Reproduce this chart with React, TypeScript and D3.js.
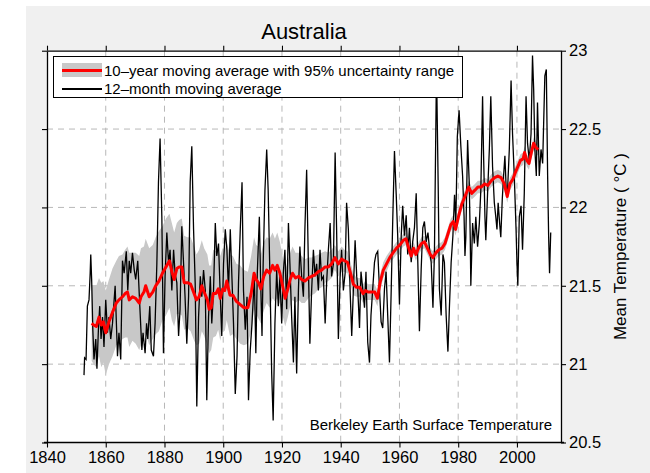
import { useEffect, useRef } from 'react';
import * as d3 from 'd3';

// axis ticks
const xTicks = [1840, 1860, 1880, 1900, 1920, 1940, 1960, 1980, 2000];
const yTicks = [20.5, 21, 21.5, 22, 22.5, 23];

// 12-month moving average, [year, temp]
const monthly: [number, number][] = [
    [1852.6, 20.93], [1852.8, 21.04], [1853.3, 21.03], [1853.75, 21.37], [1854.3, 21.41], [1854.7, 21.58],
    [1854.9, 21.7], [1855.2, 21.54], [1855.6, 21.22], [1856.0, 21.03], [1856.6, 21.16], [1857.0, 20.97],
    [1857.5, 21.22], [1857.95, 21.37], [1858.4, 21.16], [1858.9, 21.3], [1859.4, 21.11], [1860.0, 21.41],
    [1860.6, 21.2], [1861.1, 21.3], [1861.7, 21.16], [1862.3, 21.26], [1863.2, 21.5], [1864.0, 21.05],
    [1864.5, 21.2], [1865.1, 21.03], [1865.7, 21.66], [1866.25, 21.58], [1867.0, 21.72], [1867.5, 21.47],
    [1868.0, 21.66], [1868.5, 21.58], [1869.1, 21.71], [1869.7, 21.6], [1870.2, 21.54], [1870.9, 21.66],
    [1871.4, 21.45], [1872.3, 21.09], [1872.7, 21.2], [1873.4, 21.07], [1873.9, 21.26], [1874.3, 21.16],
    [1875.0, 21.37], [1875.5, 21.09], [1876.25, 21.05], [1876.8, 21.26], [1877.4, 21.64], [1877.95, 22.16],
    [1878.5, 22.44], [1879.1, 21.94], [1879.65, 21.07], [1880.2, 21.56], [1880.8, 21.84], [1881.4, 21.64],
    [1881.9, 21.73], [1882.5, 21.47], [1883.1, 21.73], [1883.6, 21.58], [1884.2, 21.52], [1884.8, 21.18],
    [1885.3, 21.35], [1885.9, 21.88], [1886.5, 21.64], [1887.0, 21.43], [1887.6, 21.13], [1888.2, 21.43],
    [1888.75, 22.16], [1889.3, 22.39], [1889.9, 21.86], [1890.45, 21.52], [1891.0, 20.73], [1891.6, 21.3],
    [1892.2, 21.56], [1892.7, 21.43], [1893.3, 21.6], [1893.9, 21.47], [1894.4, 20.77], [1895.0, 21.3],
    [1895.6, 21.56], [1896.1, 21.26], [1896.7, 21.47], [1897.3, 21.9], [1897.8, 21.69], [1898.4, 21.77],
    [1899.0, 21.43], [1899.5, 21.18], [1900.1, 21.64], [1900.7, 21.86], [1901.25, 21.73], [1901.8, 21.47],
    [1902.4, 21.86], [1902.95, 21.56], [1903.5, 21.26], [1904.1, 20.81], [1904.7, 21.05], [1905.2, 21.52],
    [1905.8, 21.86], [1906.4, 22.16], [1906.9, 21.47], [1907.5, 21.22], [1908.1, 21.43], [1908.6, 20.77],
    [1909.2, 21.09], [1909.8, 21.26], [1910.6, 21.56], [1911.1, 21.07], [1911.6, 21.58], [1912.3, 21.94],
    [1912.7, 21.56], [1913.2, 21.18], [1913.6, 21.64], [1914.2, 22.11], [1914.8, 22.37], [1915.3, 22.11],
    [1915.9, 21.56], [1916.5, 20.94], [1917.0, 20.64], [1917.6, 21.26], [1918.2, 21.6], [1918.75, 21.37],
    [1919.3, 21.56], [1919.9, 21.26], [1920.45, 21.58], [1921.0, 21.73], [1921.6, 21.35], [1922.2, 21.9],
    [1922.7, 21.64], [1923.3, 21.3], [1923.9, 21.01], [1924.4, 21.43], [1925.0, 20.94], [1925.6, 21.47],
    [1926.1, 21.75], [1926.7, 21.56], [1927.3, 21.43], [1927.8, 21.86], [1928.4, 22.24], [1928.9, 21.73],
    [1929.5, 21.13], [1930.1, 21.47], [1930.7, 21.73], [1931.25, 21.56], [1931.8, 21.64], [1932.4, 21.47],
    [1932.95, 21.73], [1933.5, 21.54], [1934.1, 21.56], [1934.7, 21.26], [1935.2, 21.52], [1935.8, 21.73],
    [1936.4, 21.9], [1936.9, 21.56], [1937.5, 21.64], [1938.1, 22.35], [1938.6, 21.86], [1939.2, 21.16],
    [1939.8, 21.56], [1940.3, 21.73], [1940.9, 21.47], [1941.5, 21.58], [1942.0, 22.03], [1942.6, 21.86],
    [1943.2, 21.47], [1943.75, 21.18], [1944.3, 21.47], [1944.9, 21.79], [1945.45, 21.56], [1945.8, 21.48],
    [1946.4, 21.23], [1946.9, 21.59], [1947.5, 21.48], [1948.1, 21.36], [1948.6, 21.59], [1949.2, 21.14],
    [1949.8, 21.01], [1950.3, 21.31], [1950.9, 21.48], [1951.5, 21.65], [1952.0, 21.7], [1952.6, 21.72],
    [1953.2, 21.48], [1953.75, 21.27], [1954.3, 21.23], [1954.9, 21.48], [1955.45, 21.59], [1956.0, 21.31],
    [1956.6, 21.01], [1957.2, 21.48], [1957.7, 21.91], [1958.3, 22.36], [1958.9, 22.08], [1959.4, 21.82],
    [1960.0, 21.38], [1960.6, 21.82], [1961.1, 22.01], [1961.7, 21.82], [1962.3, 21.95], [1962.8, 21.7],
    [1963.4, 21.87], [1964.0, 21.65], [1964.5, 21.78], [1965.1, 21.87], [1965.7, 22.09], [1966.25, 21.65],
    [1966.8, 21.21], [1967.4, 21.61], [1967.95, 21.87], [1968.5, 21.91], [1969.1, 21.78], [1969.7, 21.84],
    [1970.2, 21.74], [1970.8, 21.65], [1971.4, 21.36], [1971.9, 21.7], [1972.5, 22.7], [1972.7, 22.78],
    [1973.2, 22.12], [1973.6, 21.48], [1974.2, 21.31], [1974.8, 21.7], [1975.3, 21.65], [1975.9, 21.31],
    [1976.5, 21.08], [1977.0, 21.36], [1977.6, 21.65], [1978.2, 21.82], [1978.75, 22.08], [1979.2, 21.9],
    [1979.7, 22.45], [1980.3, 22.62], [1980.9, 22.39], [1981.5, 22.2], [1982.0, 21.94], [1982.3, 21.69],
    [1982.6, 21.81], [1983.2, 22.43], [1983.75, 22.16], [1984.1, 21.81], [1984.3, 21.5], [1984.9, 21.9],
    [1985.5, 21.77], [1986.0, 21.94], [1986.6, 21.75], [1987.2, 21.9], [1987.7, 22.11], [1988.3, 22.71],
    [1988.6, 22.37], [1989.1, 21.94], [1989.4, 21.79], [1990.0, 22.09], [1990.6, 22.37], [1991.1, 22.71],
    [1991.7, 22.26], [1992.3, 22.03], [1992.8, 21.94], [1993.2, 21.86], [1993.6, 22.03], [1994.1, 21.9],
    [1994.5, 21.81], [1995.0, 22.05], [1995.45, 22.2], [1995.9, 22.33], [1996.4, 22.09], [1996.8, 22.11],
    [1997.4, 22.37], [1998.0, 22.81], [1998.5, 22.47], [1999.1, 22.2], [1999.7, 21.86], [2000.0, 21.65],
    [2000.3, 21.5], [2000.8, 21.94], [2001.4, 22.01], [2001.9, 21.73], [2002.5, 22.09], [2003.1, 22.71],
    [2003.6, 22.41], [2004.2, 22.3], [2004.8, 22.47], [2005.3, 22.97], [2005.7, 22.75], [2006.1, 22.37],
    [2006.6, 22.2], [2007.0, 22.67], [2007.6, 22.2], [2008.2, 22.37], [2008.75, 22.28], [2009.1, 22.54],
    [2009.5, 22.84], [2010.0, 22.88], [2010.45, 22.2], [2010.8, 21.81], [2011.1, 21.58], [2011.5, 21.84],
];

// 10-year moving average, [year, temp, 95% half-width]
const decadal: [number, number, number][] = [
    [1855.2, 21.26, 0.24], [1855.9, 21.25, 0.25], [1856.8, 21.24, 0.26], [1857.7, 21.3, 0.25],
    [1858.5, 21.25, 0.27], [1859.2, 21.27, 0.26], [1860.0, 21.2, 0.27], [1861.1, 21.27, 0.27],
    [1862.3, 21.33, 0.28], [1863.6, 21.39, 0.27], [1864.5, 21.41, 0.28], [1865.7, 21.43, 0.27],
    [1866.6, 21.45, 0.28], [1867.4, 21.46, 0.29], [1868.0, 21.41, 0.3], [1869.1, 21.43, 0.28],
    [1870.2, 21.42, 0.29], [1871.4, 21.39, 0.3], [1872.0, 21.43, 0.31], [1873.0, 21.46, 0.29],
    [1873.6, 21.5, 0.3], [1874.8, 21.43, 0.31], [1876.0, 21.46, 0.3], [1877.0, 21.5, 0.31],
    [1878.1, 21.53, 0.32], [1879.3, 21.58, 0.3], [1880.5, 21.62, 0.31], [1881.7, 21.66, 0.3],
    [1882.5, 21.59, 0.31], [1883.3, 21.54, 0.3], [1884.2, 21.61, 0.29], [1885.0, 21.62, 0.3],
    [1885.9, 21.62, 0.31], [1886.7, 21.52, 0.3], [1887.8, 21.52, 0.29], [1888.9, 21.51, 0.3],
    [1890.1, 21.45, 0.3], [1890.9, 21.41, 0.29], [1891.8, 21.43, 0.3], [1892.7, 21.5, 0.29],
    [1893.5, 21.46, 0.28], [1894.6, 21.41, 0.29], [1895.2, 21.35, 0.28], [1895.9, 21.36, 0.27],
    [1896.6, 21.45, 0.28], [1897.5, 21.45, 0.27], [1898.3, 21.48, 0.26], [1899.0, 21.42, 0.27],
    [1899.8, 21.48, 0.26], [1900.5, 21.47, 0.26], [1901.2, 21.53, 0.25], [1902.3, 21.44, 0.26],
    [1903.3, 21.44, 0.25], [1904.5, 21.4, 0.24], [1905.8, 21.38, 0.25], [1907.0, 21.36, 0.24],
    [1908.4, 21.36, 0.23], [1909.5, 21.45, 0.24], [1910.5, 21.58, 0.23], [1911.2, 21.54, 0.22],
    [1912.0, 21.52, 0.23], [1912.8, 21.48, 0.22], [1913.8, 21.56, 0.22], [1914.8, 21.6, 0.21],
    [1915.8, 21.58, 0.22], [1916.8, 21.63, 0.21], [1917.6, 21.6, 0.2], [1918.4, 21.63, 0.21],
    [1919.3, 21.58, 0.2], [1920.2, 21.5, 0.19], [1921.1, 21.42, 0.18], [1922.0, 21.48, 0.18],
    [1922.8, 21.54, 0.17], [1923.6, 21.58, 0.17], [1924.6, 21.55, 0.16], [1925.7, 21.56, 0.15],
    [1926.7, 21.54, 0.15], [1927.8, 21.53, 0.14], [1929.0, 21.55, 0.13], [1930.1, 21.56, 0.12],
    [1931.2, 21.57, 0.12], [1932.4, 21.59, 0.11], [1933.5, 21.6, 0.11], [1934.7, 21.62, 0.1],
    [1935.8, 21.62, 0.09], [1936.9, 21.64, 0.09], [1938.0, 21.68, 0.08], [1939.2, 21.64, 0.08],
    [1940.3, 21.67, 0.08], [1941.3, 21.66, 0.07], [1942.3, 21.65, 0.07], [1943.2, 21.59, 0.07],
    [1944.3, 21.51, 0.07], [1945.4, 21.49, 0.06], [1946.5, 21.49, 0.06], [1947.6, 21.45, 0.06],
    [1948.4, 21.47, 0.06], [1949.3, 21.46, 0.05], [1950.4, 21.46, 0.05], [1951.6, 21.46, 0.05],
    [1952.5, 21.42, 0.05], [1953.4, 21.52, 0.05], [1954.5, 21.6, 0.05], [1955.6, 21.64, 0.05],
    [1956.7, 21.68, 0.04], [1957.8, 21.71, 0.04], [1959.0, 21.74, 0.04], [1960.1, 21.76, 0.04],
    [1961.3, 21.79, 0.04], [1962.2, 21.8, 0.04], [1963.0, 21.75, 0.04], [1964.0, 21.69, 0.04],
    [1964.8, 21.74, 0.04], [1965.6, 21.7, 0.04], [1966.5, 21.74, 0.04], [1967.5, 21.77, 0.04],
    [1968.5, 21.78, 0.04], [1969.5, 21.74, 0.04], [1970.5, 21.7, 0.04], [1971.4, 21.68, 0.04],
    [1972.4, 21.71, 0.04], [1973.4, 21.73, 0.04], [1974.5, 21.74, 0.04], [1975.5, 21.77, 0.04],
    [1976.5, 21.83, 0.04], [1977.5, 21.89, 0.04], [1978.3, 21.91, 0.04], [1979.1, 21.86, 0.04],
    [1980.2, 21.95, 0.04], [1981.2, 22.02, 0.04], [1982.3, 22.07, 0.04], [1983.6, 22.13, 0.04],
    [1984.6, 22.09, 0.04], [1985.7, 22.11, 0.04], [1986.7, 22.13, 0.04], [1987.8, 22.13, 0.04],
    [1989.0, 22.15, 0.04], [1990.1, 22.14, 0.04], [1991.2, 22.17, 0.04], [1992.4, 22.19, 0.04],
    [1993.5, 22.2, 0.04], [1994.6, 22.19, 0.04], [1995.7, 22.15, 0.04], [1996.7, 22.07, 0.04],
    [1997.6, 22.15, 0.04], [1998.6, 22.18, 0.04], [1999.4, 22.22, 0.04], [2000.3, 22.26, 0.04],
    [2001.2, 22.3, 0.04], [2002.1, 22.31, 0.04], [2002.6, 22.35, 0.04], [2003.4, 22.3, 0.04],
    [2004.1, 22.28, 0.04], [2004.9, 22.35, 0.04], [2005.7, 22.41, 0.04], [2006.5, 22.38, 0.04],
    [2007.3, 22.37, 0.04],
];

const legendLabels = ['10\u2013year moving average with 95% uncertainty range', '12\u2013month moving average'];

const FONT = '"Liberation Sans", Arial, Helvetica, sans-serif';

const App = () => {
    const chartRef = useRef<SVGSVGElement>(null);

    useEffect(() => {
        if (chartRef.current) {
            createChart();
        }
    }, []);

    const createChart = () => {
        d3.select(chartRef.current).selectAll('*').remove();

        const width = 650;
        const height = 473;
        const plot = { left: 47, right: 561, top: 50.7, bottom: 442.5 };

        const svg = d3.select(chartRef.current).attr('width', width).attr('height', height);

        // figure background
        svg.append('rect').attr('x', 26).attr('y', 6).attr('width', width - 26).attr('height', height - 6).attr('fill', '#f0f0f0');
        svg.append('rect')
            .attr('x', plot.left).attr('y', plot.top)
            .attr('width', plot.right - plot.left).attr('height', plot.bottom - plot.top)
            .attr('fill', '#fff');

        const xScale = d3.scaleLinear().domain([1840, 2015]).range([plot.left, plot.right]);
        const yScale = d3.scaleLinear().domain([20.5, 23]).range([plot.bottom, plot.top]);

        // grid
        const grid = svg.append('g').attr('stroke', '#b8b8b8').attr('stroke-dasharray', '6,5').attr('stroke-width', 1);
        grid.selectAll('.gx').data(xTicks.slice(1)).enter().append('line')
            .attr('x1', (d) => xScale(d)).attr('x2', (d) => xScale(d))
            .attr('y1', plot.top).attr('y2', plot.bottom);
        grid.selectAll('.gy').data(yTicks.slice(1, -1)).enter().append('line')
            .attr('x1', plot.left).attr('x2', plot.right)
            .attr('y1', (d) => yScale(d)).attr('y2', (d) => yScale(d));

        svg.append('clipPath').attr('id', 'plotclip').append('rect')
            .attr('x', plot.left).attr('y', plot.top)
            .attr('width', plot.right - plot.left).attr('height', plot.bottom - plot.top);
        const data = svg.append('g').attr('clip-path', 'url(#plotclip)');

        // uncertainty band
        const band = d3.area<[number, number, number]>()
            .x((d) => xScale(d[0]))
            .y0((d) => yScale(d[1] - d[2]))
            .y1((d) => yScale(d[1] + d[2]));
        data.append('path').attr('d', band(decadal)).attr('fill', '#c8c8c8');

        // 12-month line
        const line = d3.line<[number, number]>().x((d) => xScale(d[0])).y((d) => yScale(d[1]));
        data.append('path').attr('d', line(monthly)).attr('fill', 'none').attr('stroke', '#000').attr('stroke-width', 1.3);

        // 10-year line
        const redLine = d3.line<[number, number, number]>().x((d) => xScale(d[0])).y((d) => yScale(d[1]));
        data.append('path').attr('d', redLine(decadal)).attr('fill', 'none').attr('stroke', '#ff0000')
            .attr('stroke-width', 3).attr('stroke-linejoin', 'round');

        // axes
        const xBottom = d3.axisBottom(xScale).tickValues(xTicks).tickSizeInner(5).tickSizeOuter(0).tickPadding(4).tickFormat(d3.format('d'));
        const xTop = d3.axisTop(xScale).tickValues(xTicks).tickSizeInner(5).tickSizeOuter(0).tickFormat(() => '');
        const yRight = d3.axisRight(yScale).tickValues(yTicks).tickSizeInner(5).tickSizeOuter(0).tickPadding(3).tickFormat((d: any) => `${d}`);
        const yLeft = d3.axisLeft(yScale).tickValues(yTicks).tickSizeInner(5).tickSizeOuter(0).tickFormat(() => '');

        const gb = svg.append('g').attr('transform', `translate(0, ${plot.bottom})`).call(xBottom);
        const gt = svg.append('g').attr('transform', `translate(0, ${plot.top})`).call(xTop);
        const gr = svg.append('g').attr('transform', `translate(${plot.right}, 0)`).call(yRight);
        const gl = svg.append('g').attr('transform', `translate(${plot.left}, 0)`).call(yLeft);
        [gb, gt, gr, gl].forEach((g) => {
            g.selectAll('path').attr('stroke', '#000').attr('stroke-width', 1.3);
            g.selectAll('line').attr('stroke', '#000').attr('stroke-width', 1.1);
            g.selectAll('text').attr('fill', '#000').style('font-family', FONT).style('font-size', '16.5px');
        });
        gb.selectAll('path').attr('d', `M${plot.left - 3},0H${plot.right + 3}`);

        // title and labels
        svg.append('text').attr('x', (plot.left + plot.right) / 2).attr('y', 39)
            .attr('text-anchor', 'middle').style('font-family', FONT).style('font-size', '22px').text('Australia');
        svg.append('text').attr('transform', `translate(626, ${(plot.top + plot.bottom) / 2}) rotate(-90)`)
            .attr('text-anchor', 'middle').style('font-family', FONT).style('font-size', '17px')
            .text('Mean Temperature ( \u00b0C )');
        svg.append('text').attr('x', 552).attr('y', 430).attr('text-anchor', 'end')
            .style('font-family', FONT).style('font-size', '15px').text('Berkeley Earth Surface Temperature');

        // legend
        const legend = svg.append('g');
        legend.append('rect').attr('x', 53.5).attr('y', 56.5).attr('width', 409).attr('height', 41)
            .attr('fill', '#fff').attr('stroke', '#000').attr('stroke-width', 1);
        legend.append('rect').attr('x', 62).attr('y', 63).attr('width', 40).attr('height', 14).attr('fill', '#c8c8c8');
        legend.append('line').attr('x1', 62).attr('x2', 102).attr('y1', 70.5).attr('y2', 70.5)
            .attr('stroke', '#ff0000').attr('stroke-width', 3);
        legend.append('line').attr('x1', 62).attr('x2', 102).attr('y1', 89).attr('y2', 89)
            .attr('stroke', '#000').attr('stroke-width', 2);
        legend.selectAll('.ltext').data(legendLabels).enter().append('text')
            .attr('x', 104).attr('y', (_d, i) => 75.5 + i * 18.5)
            .style('font-family', FONT).style('font-size', '15px').text((d) => d);
    };

    return <svg ref={chartRef} style={{ position: 'absolute', left: 0, top: 0 }} />;
};

export default App;
